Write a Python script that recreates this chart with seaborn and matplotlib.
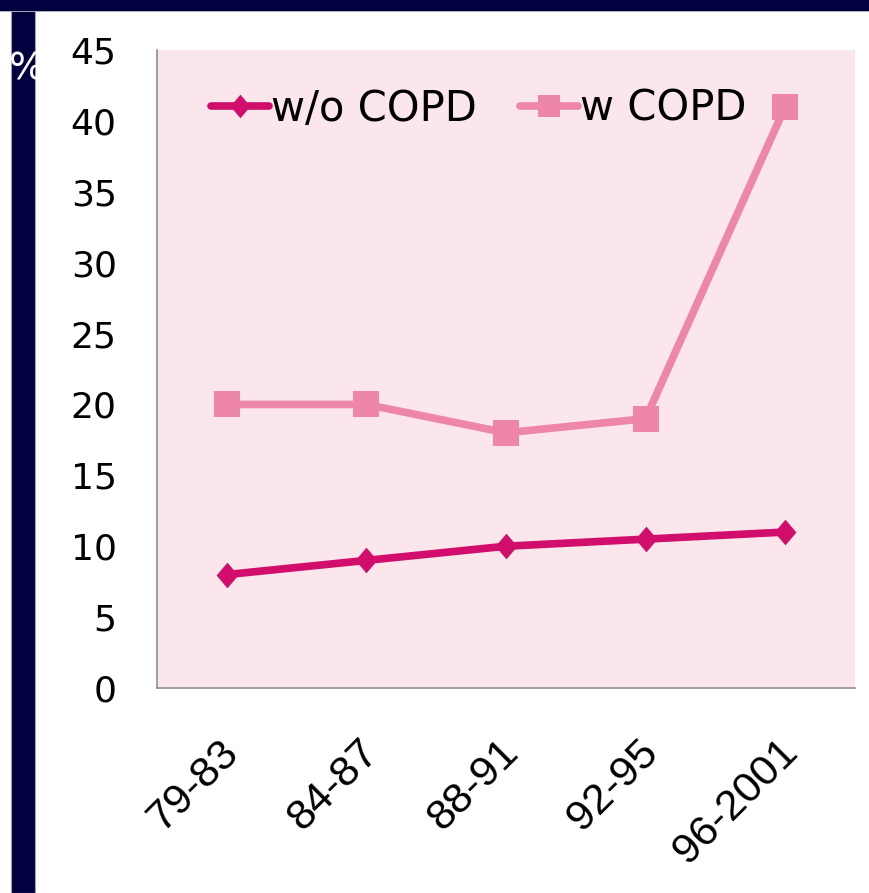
import matplotlib
matplotlib.use("Agg")
import matplotlib.pyplot as plt
from matplotlib.patches import Rectangle
import seaborn as sns
import pandas as pd

periods = ["79-83", "84-87", "88-91", "92-95", "96-2001"]
without_copd = [8, 9, 10, 10.5, 11]
with_copd = [20, 20, 18, 19, 41]
series_names = ["w/o COPD", "w COPD"]
y_ticks = [0, 5, 10, 15, 20, 25, 30, 35, 40, 45]

df = pd.DataFrame({
    "period": periods * 2,
    "value": without_copd + with_copd,
    "group": [series_names[0]] * len(periods) + [series_names[1]] * len(periods),
})

sns.set_theme(style="white")
plt.rcParams["font.family"] = ["DejaVu Sans"]
plt.rcParams["text.color"] = "black"

W, H = 870, 893
fig = plt.figure(figsize=(W / 100, H / 100), dpi=100)
fig.patch.set_facecolor("white")

# slide frame: navy header band and left strip
fig.patches.append(Rectangle((0, 1 - 11 / H), 1, 11 / H, transform=fig.transFigure,
                             facecolor="#010140", edgecolor="none", zorder=0))
fig.patches.append(Rectangle((0, 1 - 12 / H), 1, 1.2 / H, transform=fig.transFigure,
                             facecolor="#b0b0b8", edgecolor="none", zorder=0))
fig.patches.append(Rectangle((11 / W, 0), 24 / W, 1 - 11 / H, transform=fig.transFigure,
                             facecolor="#010140", edgecolor="#a0a0a8", linewidth=0.8, zorder=0))
fig.text(9 / W, 1 - 69 / H, "%", color="white", fontsize=27, va="center", ha="left")

ax = fig.add_axes([157 / W, 1 - 688 / H, (855 - 157) / W, (688 - 50) / H])
ax.set_facecolor("#fbe6ec")

# slightly tall diamond for the first series
tall_diamond = [(0, 1), (0.85, 0), (0, -1), (-0.85, 0), (0, 1)]
palette = {series_names[0]: "#d10e6b", series_names[1]: "#ee86a8"}
markers = {series_names[0]: tall_diamond, series_names[1]: "s"}
sns.lineplot(data=df, x="period", y="value", hue="group", style="group",
             palette=palette, markers=markers, dashes=False, sort=False,
             linewidth=5.5, markeredgewidth=0, legend=False, ax=ax)
series_lines = ax.lines[:2]
series_lines[0].set_markersize(18.5)
series_lines[1].set_markersize(19)

ax.set_xlim(-0.5, len(periods) - 0.5)
ax.set_ylim(0, 45)
ax.set_yticks(y_ticks)
ax.set_yticklabels([str(t) for t in y_ticks], fontsize=26, color="black")
ax.set_xticks(range(len(periods)))
ax.set_xticklabels([])
ax.tick_params(axis="y", length=0, pad=29)
ax.tick_params(axis="x", length=0)
ax.set_xlabel("")
ax.set_ylabel("")

# rotated category labels under each tick
for i, period in enumerate(periods):
    ax.annotate(period, xy=(i, 0), xycoords=("data", "axes fraction"),
                xytext=(-5.8, -31.7), textcoords="offset points",
                rotation=45, ha="right", va="top", rotation_mode="anchor",
                fontsize=31, color="black", family=["Liberation Sans", "DejaVu Sans"],
                annotation_clip=False)

for side in ["top", "right"]:
    ax.spines[side].set_visible(False)
for side in ["left", "bottom"]:
    ax.spines[side].set_color("#909090")
    ax.spines[side].set_linewidth(1.2)

leg = ax.legend(handles=series_lines, labels=series_names,
                loc="upper left", bbox_to_anchor=(0.053, 0.967), ncol=2, frameon=False,
                fontsize=30, handlelength=1.4, handletextpad=0.05, columnspacing=1.03,
                borderaxespad=0)
leg.legend_handles[0].set_markersize(17)
leg.legend_handles[1].set_markersize(16)
for h in leg.legend_handles:
    h.set_solid_capstyle("round")
for t in leg.get_texts():
    t.set_color("black")

fig.savefig("out.png", dpi=100)
